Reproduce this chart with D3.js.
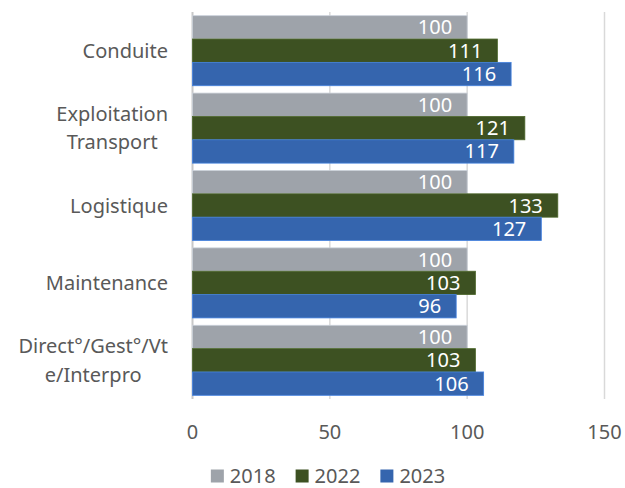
<html>
<head>
  <script src="https://d3js.org/d3.v7.min.js"></script>
  <style>
  body { margin: 0; background: #fff; }
  text { font-family: "Noto Sans", sans-serif; }
  </style>
</head>
<body>
  <svg id="chart" width="625" height="488"></svg>
  <script>

  // data
  const categories = ["Conduite", "Exploitation Transport", "Logistique", "Maintenance", "Direct°/Gest°/Vte/Interpro"];
  const categoryLines = [["Conduite"], ["Exploitation", "Transport"], ["Logistique"], ["Maintenance"], ["Direct°/Gest°/Vt", "e/Interpro"]];
  const years = ["2018", "2022", "2023"];
  const values2018 = [100, 100, 100, 100, 100];
  const values2022 = [111, 121, 133, 103, 103];
  const values2023 = [116, 117, 127, 96, 106];
  const xTicks = [0, 50, 100, 150];
  const colors = ["#9EA3AA", "#3D5122", "#3565AE"];

  const svg = d3.select("#chart");
  const series = [values2018, values2022, values2023];

  const x = d3.scaleLinear().domain([0, 150]).range([192.5, 604.5]);
  const y = d3.scaleBand().domain(categories).range([12, 399]).paddingInner(0.095).paddingOuter(0.0475);
  const ySub = d3.scaleBand().domain(years).range([0, y.bandwidth()]);
  const color = d3.scaleOrdinal().domain(years).range(colors);

  // gridlines
  svg.append("g").selectAll("line").data(xTicks)
    .join("line")
    .attr("x1", d => x(d)).attr("x2", d => x(d))
    .attr("y1", 12).attr("y2", 399)
    .attr("stroke", d => d === 0 ? "#C8C8C8" : "#D9D9D9")
    .attr("stroke-width", d => d === 0 ? 2 : 1.5);

  // bars
  const rows = [];
  categories.forEach((c, i) => {
    years.forEach((yr, j) => rows.push({ cat: c, year: yr, value: series[j][i] }));
  });

  const bars = svg.append("g");
  bars.selectAll("rect").data(rows)
    .join("rect")
    .attr("x", x(0))
    .attr("y", d => y(d.cat) + ySub(d.year))
    .attr("width", d => x(d.value) - x(0))
    .attr("height", ySub.bandwidth())
    .attr("fill", d => color(d.year))
    .attr("stroke", d => d3.color(color(d.year)).brighter(0.7))
    .attr("stroke-width", 0.8);

  bars.selectAll("text").data(rows)
    .join("text")
    .attr("x", d => x(d.value) - 15)
    .attr("y", d => y(d.cat) + ySub(d.year) + ySub.bandwidth() / 2)
    .attr("dy", "0.35em")
    .attr("text-anchor", "end")
    .attr("fill", "#fff")
    .style("font-size", "20px")
    .text(d => d.value);

  // category labels, lines centred on each other, block right-aligned
  const labels = svg.append("g");
  categories.forEach((c, i) => {
    const lines = categoryLines[i];
    const g = labels.append("g");
    const cy = y(c) + y.bandwidth() / 2;
    const t = g.selectAll("text").data(lines)
      .join("text")
      .attr("y", (d, k) => cy + (k - (lines.length - 1) / 2) * 28.5)
      .attr("dy", "0.35em")
      .attr("text-anchor", "middle")
      .attr("fill", "#595959")
      .style("font-size", "20px")
      .text(d => d);
    let w = 0;
    t.each(function() { w = Math.max(w, this.getComputedTextLength()); });
    t.attr("x", 168 - w / 2);
  });

  // x tick labels
  svg.append("g").selectAll("text").data(xTicks)
    .join("text")
    .attr("x", d => x(d))
    .attr("y", 432)
    .attr("dy", "0.35em")
    .attr("text-anchor", "middle")
    .attr("fill", "#595959")
    .style("font-size", "20px")
    .text(d => d);

  // legend
  const legend = svg.append("g");
  const items = legend.selectAll("g").data(years).join("g");
  items.append("rect")
    .attr("width", 13).attr("height", 13)
    .attr("y", 469.5)
    .attr("fill", d => color(d));
  items.append("text")
    .attr("x", 19)
    .attr("y", 476)
    .attr("dy", "0.35em")
    .attr("fill", "#595959")
    .style("font-size", "20px")
    .text(d => d);
  let lx = 0;
  const offsets = [];
  items.each(function() {
    offsets.push(lx);
    lx += 19 + d3.select(this).select("text").node().getComputedTextLength() + 20;
  });
  const total = lx - 20;
  const start = 328 - total / 2;
  items.attr("transform", (d, i) => "translate(" + (start + offsets[i]) + ",0)");

  </script>
</body>
</html>
